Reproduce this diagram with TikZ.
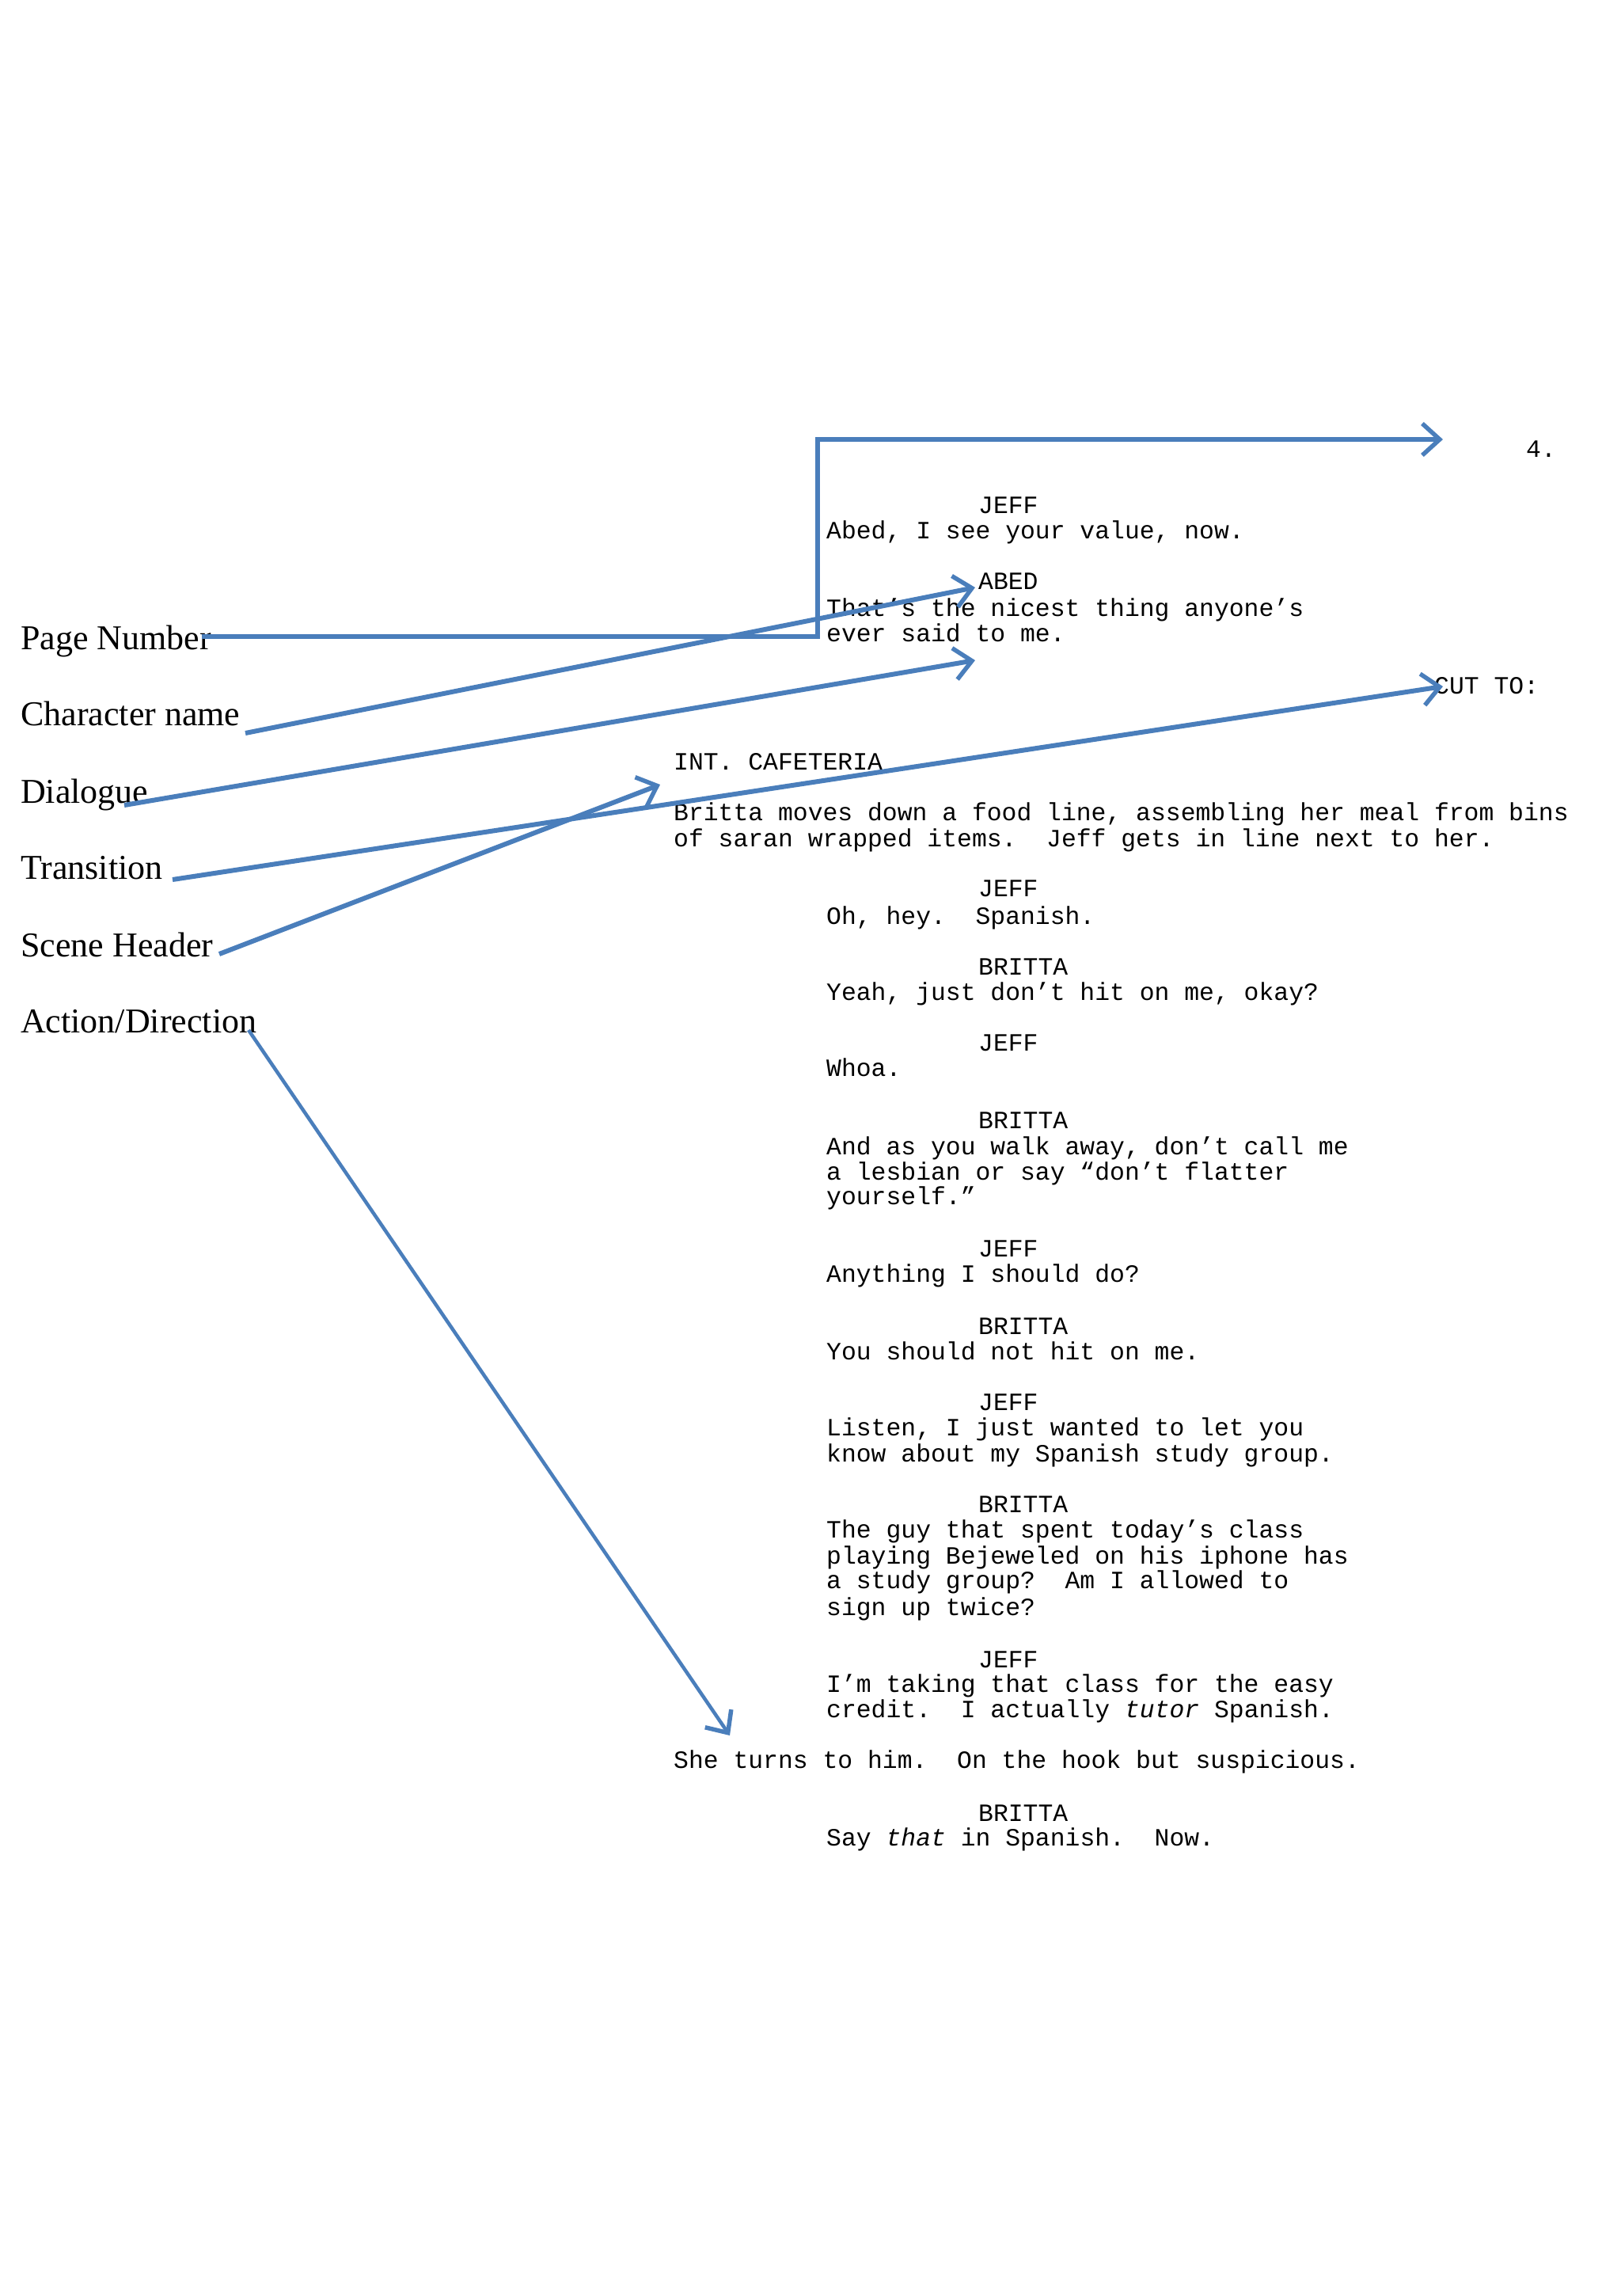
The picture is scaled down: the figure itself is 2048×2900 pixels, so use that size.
\documentclass[tikz,border=0pt]{standalone}
\usepackage{fontspec}
\setmainfont{Liberation Serif}
\newfontfamily\scr{Liberation Mono}
\usetikzlibrary{arrows.meta}
\begin{document}
\begin{tikzpicture}[x=1pt,y=-1pt,
  lab/.style={anchor=base west,inner sep=0pt,font=\fontsize{44}{46}\selectfont},
  sc/.style={anchor=base west,inner sep=0pt,font=\scr\fontsize{31.4}{32}\selectfont},
  arr/.style={color={rgb,255:red,74;green,126;blue,187},line width=6pt,-{Straight Barb[length=22pt,width=40pt,line width=5.5pt]}}]
\useasboundingbox (0,0) rectangle (2048,2900);
% labels
\node[lab] (pn) at (26,820) {Page Number};
\node[lab] (cn) at (26,916) {Character name};
\node[lab] (dl) at (26,1014) {Dialogue};
\node[lab] (tr) at (26,1110) {Transition};
\node[lab] (sh) at (26,1208) {Scene Header};
\node[lab] (ad) at (26,1304) {Action/Direction};
% script text
\node[sc] (p4) at (1928,577) {4.};
\node[sc] (t1) at (1236,648) {JEFF};
\node[sc] (t2) at (1044,680) {Abed, I see your value, now.};
\node[sc] (t3) at (1236,744) {ABED};
\node[sc] (t4) at (1044,778) {That’s the nicest thing anyone’s};
\node[sc] (t5) at (1044,810) {ever said to me.};
\node[sc] (cut) at (1812,876) {CUT TO:};
\node[sc] (int) at (851,972) {INT. CAFETERIA};
\node[sc] (b1) at (851,1036) {Britta moves down a food line, assembling her meal from bins};
\node[sc] (b2) at (851,1069) {of saran wrapped items.\ \ Jeff gets in line next to her.};
\node[sc] (c1) at (1236,1132) {JEFF};
\node[sc] (d1) at (1044,1167) {Oh, hey.\ \ Spanish.};
\node[sc] (c2) at (1236,1231) {BRITTA};
\node[sc] (d2) at (1044,1263) {Yeah, just don’t hit on me, okay?};
\node[sc] (c3) at (1236,1327) {JEFF};
\node[sc] (d3) at (1044,1359) {Whoa.};
\node[sc] (c4) at (1236,1425) {BRITTA};
\node[sc] (d4) at (1044,1458) {And as you walk away, don’t call me};
\node[sc] (d4b) at (1044,1490) {a lesbian or say “don’t flatter};
\node[sc] (d4c) at (1044,1521) {yourself.”};
\node[sc] (c5) at (1236,1587) {JEFF};
\node[sc] (d5) at (1044,1619) {Anything I should do?};
\node[sc] (c6) at (1236,1685) {BRITTA};
\node[sc] (d6) at (1044,1717) {You should not hit on me.};
\node[sc] (c7) at (1236,1781) {JEFF};
\node[sc] (d7) at (1044,1813) {Listen, I just wanted to let you};
\node[sc] (d7b) at (1044,1846) {know about my Spanish study group.};
\node[sc] (c8) at (1236,1910) {BRITTA};
\node[sc] (d8) at (1044,1942) {The guy that spent today’s class};
\node[sc] (d8b) at (1044,1975) {playing Bejeweled on his iphone has};
\node[sc] (d8c) at (1044,2006) {a study group?\ \ Am I allowed to};
\node[sc] (d8d) at (1044,2040) {sign up twice?};
\node[sc] (c9) at (1236,2106) {JEFF};
\node[sc] (d9) at (1044,2137) {I’m taking that class for the easy};
\node[sc] (d9b) at (1044,2169) {credit.\ \ I actually \textit{tutor} Spanish.};
\node[sc] (a2) at (851,2233) {She turns to him.\ \ On the hook but suspicious.};
\node[sc] (c10) at (1236,2300) {BRITTA};
\node[sc] (d10) at (1044,2331) {Say \textit{that} in Spanish.\ \ Now.};
% arrow points
\coordinate (pnS) at (255,804);
\coordinate (pnA) at (1033,804);
\coordinate (pnB) at (1033,555);
\coordinate (pnT) at (1823,555);
\coordinate (cnS) at (310,926);
\coordinate (cnT) at (1232,742);
\coordinate (dlS) at (157,1017);
\coordinate (dlT) at (1232,834);
\coordinate (trS) at (218,1111);
\coordinate (trT) at (1823,867);
\coordinate (shS) at (277,1205);
\coordinate (shT) at (834,991);
\coordinate (adS) at (314,1301);
\coordinate (adT) at (922,2192);
\draw[arr] (pnS) -- (pnA) -- (pnB) -- (pnT);
\draw[arr] (cnS) -- (cnT);
\draw[arr] (dlS) -- (dlT);
\draw[arr] (trS) -- (trT);
\draw[arr] (shS) -- (shT);
\draw[arr,line width=4.5pt] (adS) -- (adT);
\end{tikzpicture}
\end{document}
